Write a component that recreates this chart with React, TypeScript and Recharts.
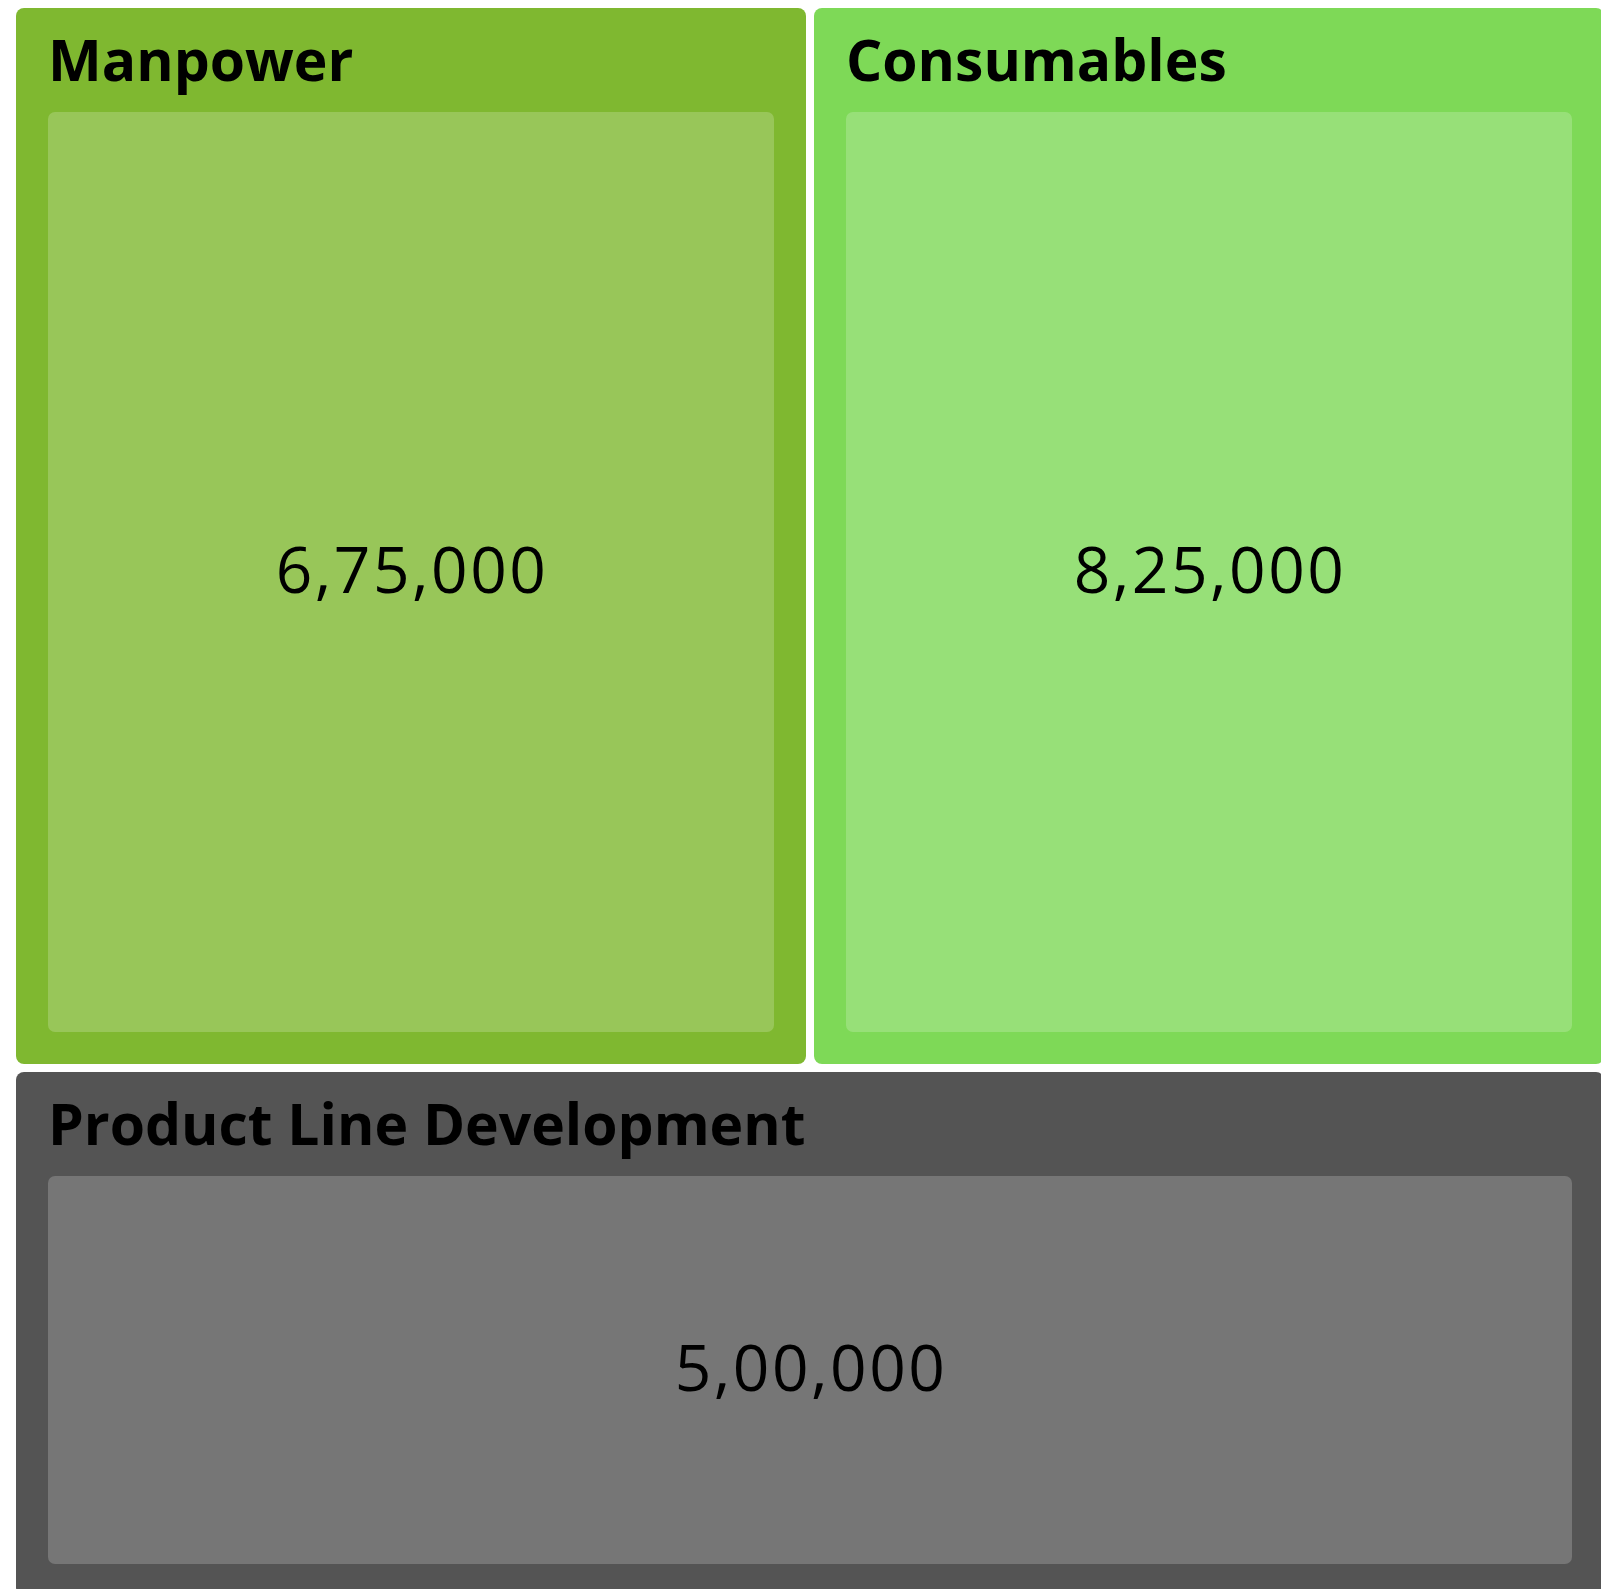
import React from 'react';
import { Treemap } from 'recharts';

// categories, amounts and colours
const categories = ['Manpower', 'Consumables', 'Product Line Development'];
const amounts = [675000, 825000, 500000];
const colors = ['#7FB830', '#7ED957', '#545454'];
// every tile has the same area in the picture, so each gets one equal share
const shares = [1, 1, 1];

const data = categories.map((name, i) => ({
  name,
  amount: amounts[i],
  share: shares[i],
  color: colors[i],
}));

// Indian grouping: 6,75,000
const formatINR = (v: number) => v.toLocaleString('en-IN');

const Tile = (props: any) => {
  const { x, y, width, height, depth, name, amount, color } = props;
  if (depth !== 1) return null;
  const ox = x + 4;
  const oy = y + 4;
  const ow = width - 8;
  const oh = height - 8;
  const ix = ox + 32;
  const iy = oy + 104;
  const iw = ow - 64;
  const ih = oh - 136;
  return (
    <g>
      <rect x={ox} y={oy} width={ow} height={oh} rx={8} ry={8} fill={color} />
      <text
        x={ox + 32}
        y={oy + 73}
        fill="#000"
        fontFamily="'Open Sans', sans-serif"
        fontWeight={700}
        fontSize={57}
      >
        {name}
      </text>
      <rect x={ix} y={iy} width={iw} height={ih} rx={7} ry={7} fill="#fff" fillOpacity={0.2} />
      <text
        x={ix + iw / 2 + 1}
        y={iy + ih / 2 - 4}
        textAnchor="middle"
        dominantBaseline="central"
        fill="#000"
        fontFamily="'Open Sans', sans-serif"
        fontSize={64}
        letterSpacing={2.5}
      >
        {formatINR(amount)}
      </text>
    </g>
  );
};

export default function App() {
  return (
    <div style={{ position: 'absolute', left: 12, top: 4 }}>
      <Treemap
        width={1596}
        height={1596}
        data={data}
        dataKey="share"
        nameKey="name"
        stroke="none"
        isAnimationActive={false}
        content={<Tile />}
      />
    </div>
  );
}
